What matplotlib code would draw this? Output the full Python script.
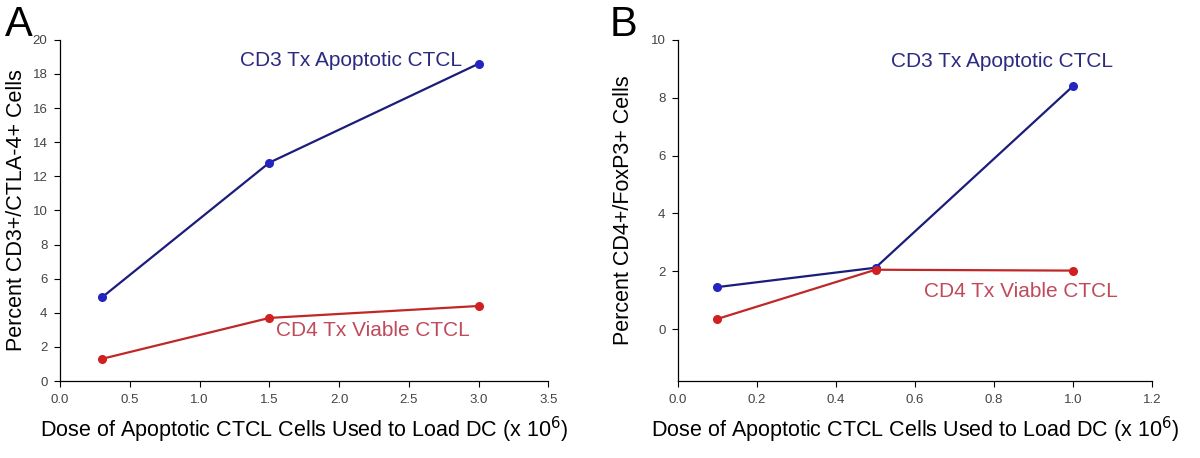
import matplotlib
matplotlib.use("Agg")
import matplotlib.pyplot as plt

plt.rcParams["font.family"] = ["Liberation Sans", "DejaVu Sans"]

# --- data ---
dose_a = [0.3, 1.5, 3.0]
cd3_a = [4.9, 12.8, 18.6]
cd4_a = [1.3, 3.7, 4.4]

dose_b = [0.1, 0.5, 1.0]
cd3_b = [1.45, 2.12, 8.4]
cd4_b = [0.35, 2.05, 2.02]

BLUE_LINE = "#1c1c7a"
BLUE_MARK = "#2424c0"
RED_LINE = "#c02828"
RED_MARK = "#d02020"
BLUE_TXT = "#2a2a80"
RED_TXT = "#c04a5a"

fig = plt.figure(figsize=(12, 4.58), dpi=100)
ax_a = fig.add_axes([0.05, 0.168, 0.407, 0.745])
ax_b = fig.add_axes([0.565, 0.168, 0.395, 0.745])


def style(ax):
    for s in ["top", "right"]:
        ax.spines[s].set_visible(False)
    for s in ["left", "bottom"]:
        ax.spines[s].set_linewidth(0.9)
    ax.tick_params(direction="out", length=4, width=0.8, labelsize=9.5,
                   labelcolor="#444444", pad=5)


def series(ax, x, y, lc, mc):
    ax.plot(x, y, color=lc, linewidth=1.6, marker="o", markersize=5.5,
            markerfacecolor=mc, markeredgecolor=mc, clip_on=False)


XLABEL = r"Dose of Apoptotic CTCL Cells Used to Load DC (x 10$^{6}$)"

# Panel A
series(ax_a, dose_a, cd3_a, BLUE_LINE, BLUE_MARK)
series(ax_a, dose_a, cd4_a, RED_LINE, RED_MARK)
ax_a.set_xlim(0, 3.5)
ax_a.set_ylim(0, 20)
ax_a.set_xticks([0, 0.5, 1.0, 1.5, 2.0, 2.5, 3.0, 3.5])
ax_a.set_xticklabels(["0.0", "0.5", "1.0", "1.5", "2.0", "2.5", "3.0", "3.5"])
ax_a.set_yticks(range(0, 21, 2))
style(ax_a)
ax_a.set_ylabel("Percent CD3+/CTLA-4+ Cells", fontsize=15.5, labelpad=4)
ax_a.set_xlabel(XLABEL, fontsize=15.5, labelpad=7)
ax_a.text(1.29, 18.8, "CD3 Tx Apoptotic CTCL", color=BLUE_TXT, fontsize=15,
          va="center")
ax_a.text(1.55, 2.95, "CD4 Tx Viable CTCL", color=RED_TXT, fontsize=15,
          va="center")
fig.text(0.004, 0.945, "A", fontsize=30, va="center")

# Panel B
series(ax_b, dose_b, cd3_b, BLUE_LINE, BLUE_MARK)
series(ax_b, dose_b, cd4_b, RED_LINE, RED_MARK)
ax_b.set_xlim(0, 1.2)
ax_b.set_ylim(-1.8, 10)
ax_b.set_xticks([0, 0.2, 0.4, 0.6, 0.8, 1.0, 1.2])
ax_b.set_xticklabels(["0.0", "0.2", "0.4", "0.6", "0.8", "1.0", "1.2"])
ax_b.set_yticks(range(0, 11, 2))
style(ax_b)
ax_b.set_ylabel("Percent CD4+/FoxP3+ Cells", fontsize=15.5, labelpad=12)
ax_b.set_xlabel(XLABEL, fontsize=15.5, labelpad=7)
ax_b.text(0.54, 9.25, "CD3 Tx Apoptotic CTCL", color=BLUE_TXT, fontsize=15,
          va="center")
ax_b.text(0.623, 1.3, "CD4 Tx Viable CTCL", color=RED_TXT, fontsize=15,
          va="center")
fig.text(0.508, 0.945, "B", fontsize=30, va="center")

fig.savefig("out.png", dpi=100)
